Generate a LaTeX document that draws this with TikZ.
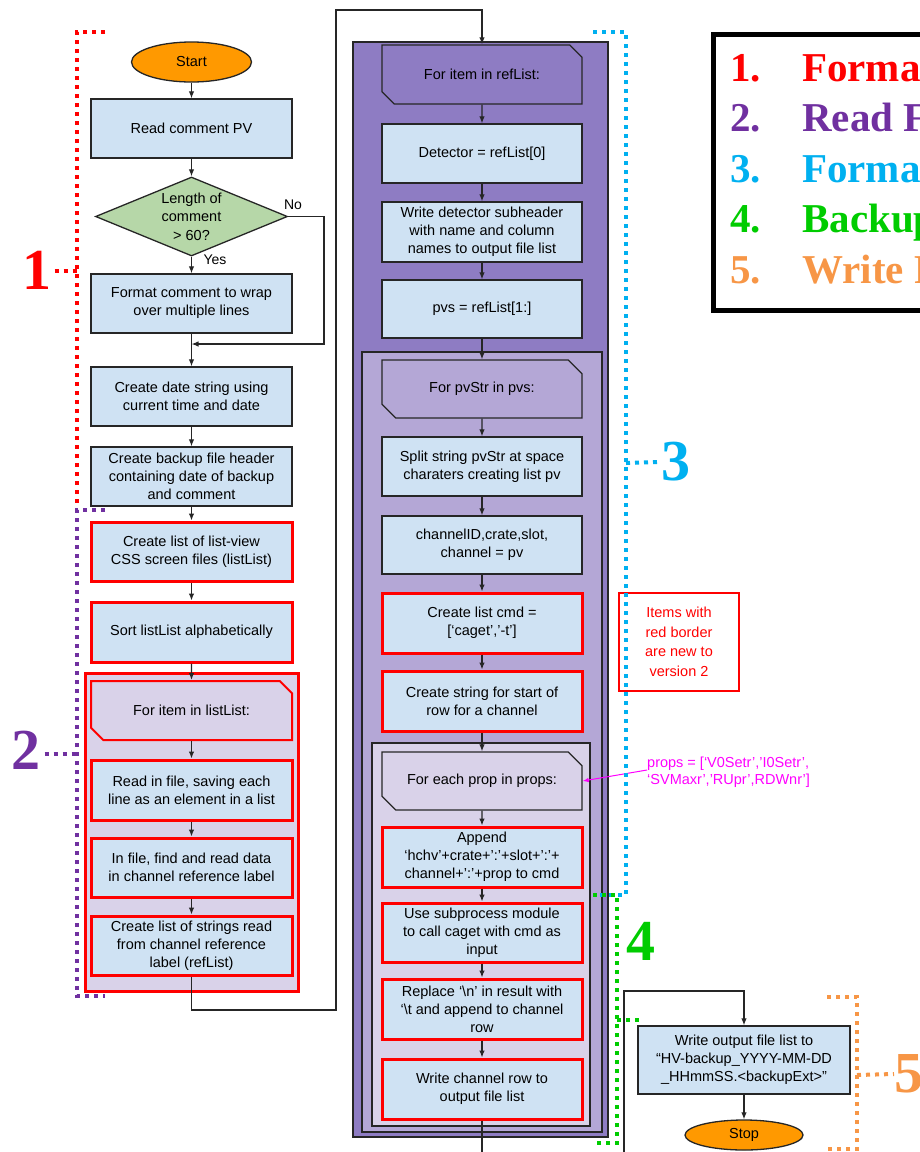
\documentclass[tikz,border=0pt]{standalone}
\usepackage{fontspec}
\setmainfont{Liberation Sans}
\newfontfamily\legendfont{Liberation Serif}
\usetikzlibrary{shapes.geometric,shapes.misc,arrows.meta}
\definecolor{boxblue}{HTML}{CFE2F3}
\definecolor{diagreen}{HTML}{B6D7A8}
\definecolor{termorange}{HTML}{FF9900}
\definecolor{purpA}{HTML}{8E7CC3}
\definecolor{purpB}{HTML}{B4A7D6}
\definecolor{lavend}{HTML}{D9D2E9}
\definecolor{newred}{HTML}{FF0000}
\definecolor{secpurple}{HTML}{7030A0}
\definecolor{secblue}{HTML}{00B0F0}
\definecolor{secgreen}{HTML}{00CC00}
\definecolor{secorange}{HTML}{F79646}
\definecolor{annmag}{HTML}{FF00FF}
\begin{document}
\begin{tikzpicture}[x=1pt,y=-1pt,
  box/.style={rectangle, draw=black!85, line width=1.3pt, fill=boxblue,
    minimum width=201pt, minimum height=59pt, inner sep=0pt, align=center,
    font=\fontsize{14.5}{18}\selectfont},
  newbox/.style={box, draw=newred, line width=3pt},
  loophdr/.style={box, chamfered rectangle,
    chamfered rectangle corners={north east,south west},
    chamfered rectangle xsep=7pt, chamfered rectangle ysep=7pt},
  container/.style={rectangle, draw=black!85, line width=1.3pt, inner sep=0pt},
  term/.style={ellipse, draw=black!85, line width=1.3pt, fill=termorange,
    inner sep=0pt, font=\fontsize{14.5}{18}\selectfont},
  arr/.style={-{Latex[length=7pt,width=5.5pt]}, line width=1.2pt, draw=black!85},
  plain/.style={line width=1.2pt, draw=black!85},
  secline/.style={line width=4pt, dash pattern=on 4pt off 5pt},
  seclabel/.style={font=\legendfont\fontsize{58}{58}\selectfont\bfseries, inner sep=0pt},
  legtext/.style={font=\legendfont\fontsize{41}{41}\selectfont\bfseries, inner sep=0pt, anchor=base west},
  smalllbl/.style={font=\fontsize{14}{16}\selectfont, inner sep=0pt}
]
\useasboundingbox (0,0) rectangle (920,1152);

%% ---------------- left column ----------------
\node[term, minimum width=120pt, minimum height=40pt] (start) at (191.5,62) {Start};
\node[box] (read) at (191.5,128.5) {Read comment PV};
\node[diamond, aspect=2.43, draw=black!85, line width=1.3pt, fill=diagreen,
  minimum width=192pt, minimum height=79pt, inner sep=0pt, align=center,
  font=\fontsize{14.5}{18.5}\selectfont] (dia) at (191.5,216.5) {Length of\\comment\\> 60?};
\node[box] (fmt) at (191.5,303.5) {Format comment to wrap\\over multiple lines};
\node[box] (date) at (191.5,396.5) {Create date string using\\current time and date};
\node[box] (hdr) at (191.5,476.5) {Create backup file header\\containing date of backup\\and comment};
\node[newbox] (lview) at (191.5,551.5) {Create list of list-view\\CSS screen files (listList)};
\node[newbox, minimum height=60pt] (sort) at (191.5,632) {Sort listList alphabetically};
\node[container, draw=newred, line width=3pt, fill=lavend, minimum width=213pt, minimum height=318pt] (loopL) at (191.5,832) {};
\node[loophdr, draw=newred, line width=2pt, fill=lavend] (forlist) at (191.5,710.5) {For item in listList:};
\node[newbox, minimum height=60pt] (readf) at (191.5,790) {Read in file, saving each\\line as an element in a list};
\node[newbox] (findd) at (191.5,867.5) {In file, find and read data\\in channel reference label};
\node[newbox] (strs) at (191.5,945.5) {Create list of strings read\\from channel reference\\label (refList)};

\node[smalllbl] (nolbl) at (293,205) {No};
\node[smalllbl] (yeslbl) at (215,260) {Yes};

\draw[arr] (start) -- (read);
\draw[arr] (read) -- (dia);
\draw[arr] (dia) -- (fmt);
\coordinate (nocorner) at (324,344);
\coordinate (merge) at (191.5,344);
\draw[arr] (dia.east) -- (dia.east -| nocorner) -- (nocorner) -- (merge);
\draw[arr] (fmt) -- (date);
\draw[arr] (date) -- (hdr);
\draw[arr] (hdr) -- (lview);
\draw[arr] (lview) -- (sort);
\draw[arr] (sort) -- (forlist);
\draw[arr] (forlist) -- (readf);
\draw[arr] (readf) -- (findd);
\draw[arr] (findd) -- (strs);

%% ---------------- middle column ----------------
\node[container, fill=purpA, minimum width=255pt, minimum height=1095pt] (outerC) at (480.5,589.5) {};
\node[loophdr, fill=purpA, minimum width=200pt] (forref) at (482,74.5) {For item in refList:};
\node[box, minimum width=200pt] (det) at (482,153.5) {Detector = refList[0]};
\node[box, minimum width=200pt, minimum height=60pt] (sub) at (482,232) {Write detector subheader\\with name and column\\names to output file list};
\node[box, minimum width=200pt, minimum height=58pt] (pvs) at (482,309) {pvs = refList[1:]};
\node[container, fill=purpB, minimum width=240pt, minimum height=780pt] (midC) at (482,742) {};
\node[loophdr, fill=purpB, minimum width=200pt, minimum height=58pt] (forpv) at (482,389) {For pvStr in pvs:};
\node[box, minimum width=200pt] (split) at (482,466.5) {Split string pvStr at space\\charaters creating list pv};
\node[box, minimum width=200pt, minimum height=58pt] (chan) at (482,545) {channelID,crate,slot,\\channel = pv};
\node[newbox, minimum width=200pt, minimum height=60pt] (cmd) at (482,623) {Create list cmd =\\{[}‘caget’,’-t’{]}};
\node[newbox, minimum width=200pt, minimum height=60pt] (rowst) at (482,701) {Create string for start of\\row for a channel};
\node[container, fill=lavend, minimum width=218pt, minimum height=383pt] (innC) at (481,934.5) {};
\node[loophdr, fill=lavend, minimum width=200pt, minimum height=58pt] (forprop) at (482,781) {For each prop in props:};
\node[newbox, minimum width=200pt, minimum height=60pt] (app) at (482,857) {Append\\‘hchv’+crate+’:’+slot+’:’+\\channel+’:’+prop to cmd};
\node[newbox, minimum width=200pt] (subp) at (482,932.5) {Use subprocess module\\to call caget with cmd as\\input};
\node[newbox, minimum width=200pt, minimum height=60pt] (repl) at (482,1009) {Replace ‘\textbackslash n’ in result with\\‘\textbackslash t and append to channel\\row};
\node[newbox, minimum width=200pt, minimum height=60pt] (wrow) at (482,1089) {Write channel row to\\output file list};

\coordinate (jl1) at (191.5,1010);
\coordinate (jl2) at (336,1010);
\coordinate (jl3) at (336,10);
\coordinate (jl4) at (482,10);
\draw[arr] (strs.south) -- (jl1) -- (jl2) -- (jl3) -- (jl4) -- (forref.north);
\draw[arr] (forref) -- (det);
\draw[arr] (det) -- (sub);
\draw[arr] (sub) -- (pvs);
\draw[arr] (pvs) -- (forpv);
\draw[arr] (forpv) -- (split);
\draw[arr] (split) -- (chan);
\draw[arr] (chan) -- (cmd);
\draw[arr] (cmd) -- (rowst);
\draw[arr] (rowst) -- (forprop);
\draw[arr] (forprop) -- (app);
\draw[arr] (app) -- (subp);
\draw[arr] (subp) -- (repl);
\draw[arr] (repl) -- (wrow);
\coordinate (wrowend) at (482,1165);
\draw[plain] (wrow.south) -- (wrowend);

%% ---------------- right side ----------------
\node[rectangle, draw=newred, line width=2.5pt, minimum width=120pt, minimum height=98pt,
  inner sep=0pt, align=center, text=newred, font=\fontsize{14.5}{19.5}\selectfont] (note) at (679,642)
  {Items with\\red border\\are new to\\version 2};
\node[anchor=west, inner sep=0pt, align=left, text=annmag, font=\fontsize{14.5}{16.5}\selectfont] (props) at (647,772)
  {props = {[}‘V0Setr’,’I0Setr’,\\‘SVMaxr’,’RUpr’,RDWnr’{]}};
\draw[-{Latex[length=6pt,width=4.5pt]}, line width=1pt, annmag] ([yshift=2pt]props.west) -- (forprop.east);

\node[box, minimum width=212pt, minimum height=68pt] (out) at (744,1060) {Write output file list to\\“HV-backup\_YYYY-MM-DD\\\_HHmmSS.<backupExt>”};
\node[term, minimum width=118pt, minimum height=30pt] (stop) at (744,1135) {Stop};
\coordinate (inend) at (624,1165);
\coordinate (incorner) at (624,991);
\draw[arr] (inend) -- (incorner) -- (incorner -| out.north) -- (out.north);
\draw[arr] (out) -- (stop);

%% ---------------- section brackets ----------------
\draw[secline, newred] (105,32) -- (77,32) -- (77,505);
\node[seclabel, text=newred] (s1) at (37,270) {1};
\draw[secline, newred] (s1.east) ++(3,1) -- (77,271);

\draw[secline, secpurple] (105,510) -- (77,510) -- (77,996) -- (105,996);
\node[seclabel, text=secpurple] (s2) at (26,750) {2};
\draw[secline, secpurple] (s2.east) ++(4,4) -- (77,754);

\draw[secline, secblue] (593,32) -- (626,32) -- (626,895) -- (593,895);
\node[seclabel, text=secblue] (s3) at (676,462) {3};
\draw[secline, secblue] (626,463) -- (s3.west);

\draw[secline, secgreen] (593,895) -- (617,895) -- (617,1143) -- (593,1143);
\node[seclabel, text=secgreen] (s4) at (641,941) {4};
\draw[secline, secgreen] (617,1020) -- (643,1020);

\draw[secline, secorange] (827,997) -- (857,997) -- (857,1149) -- (827,1149);
\node[seclabel, text=secorange, anchor=west] (s5) at (894,1074) {5};
\draw[secline, secorange] (857,1075) -- (s5.west);

%% ---------------- legend ----------------
\node[rectangle, draw=black, line width=5pt, minimum width=260pt, minimum height=276pt,
  anchor=north west, inner sep=0pt] (legend) at (710.5,31.5) {};
\node[legtext, text=newred] (l1n) at (730,81) {1.};
\node[legtext, text=newred] (l1t) at (802,81) {Format};
\node[legtext, text=secpurple] (l2n) at (730,131.5) {2.};
\node[legtext, text=secpurple] (l2t) at (802,131.5) {Read F};
\node[legtext, text=secblue] (l3n) at (730,182) {3.};
\node[legtext, text=secblue] (l3t) at (802,182) {Format};
\node[legtext, text=secgreen] (l4n) at (730,232.5) {4.};
\node[legtext, text=secgreen] (l4t) at (802,232.5) {Backup};
\node[legtext, text=secorange] (l5n) at (730,283) {5.};
\node[legtext, text=secorange] (l5t) at (802,283) {Write F};
\end{tikzpicture}
\end{document}
